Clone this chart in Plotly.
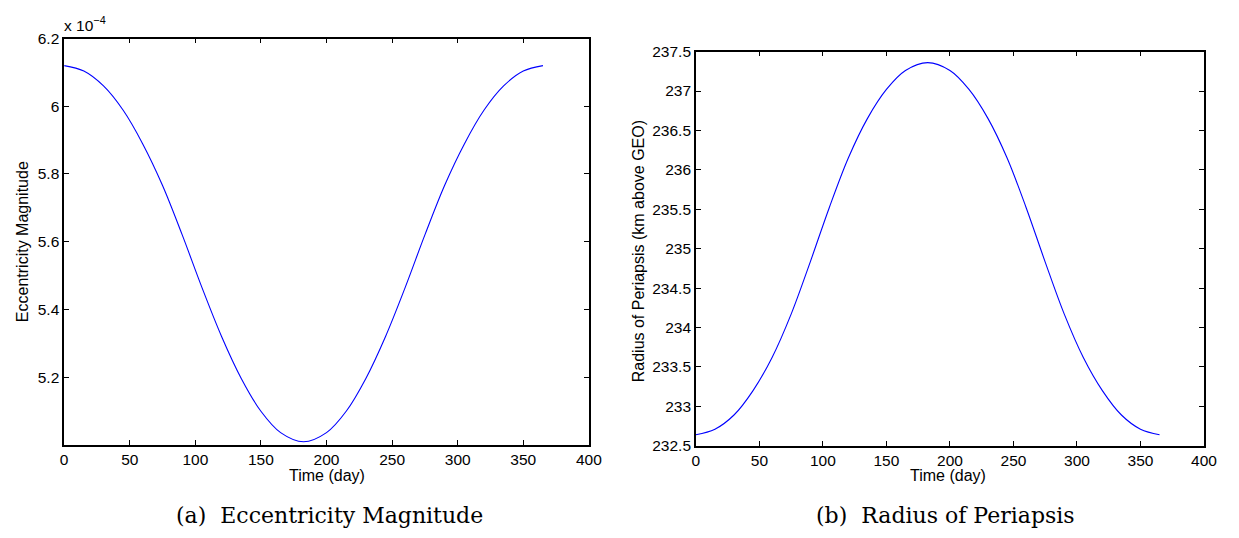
import plotly.graph_objects as go

# ---- data ----
days = [0, 15, 30, 45, 60, 75, 90, 105, 120, 135, 150, 165, 182.5,
        200, 215, 230, 245, 260, 275, 290, 305, 320, 335, 350, 365]
ecc = [6.120, 6.104, 6.060, 5.988, 5.888, 5.766, 5.620, 5.465, 5.320, 5.196, 5.099,
       5.036, 5.009,
       5.036, 5.099, 5.196, 5.320, 5.465, 5.620, 5.766, 5.888, 5.988, 6.060, 6.104,
       6.120]
rp = [232.64, 232.71, 232.89, 233.20, 233.62, 234.17, 234.83, 235.52, 236.15, 236.65,
      237.02, 237.26, 237.36,
      237.26, 237.02, 236.65, 236.15, 235.52, 234.83, 234.17, 233.62, 233.20, 232.89,
      232.71, 232.64]

x_ticks = [0, 50, 100, 150, 200, 250, 300, 350, 400]
ecc_ticks = [5.2, 5.4, 5.6, 5.8, 6.0, 6.2]
ecc_ticklabels = ["5.2", "5.4", "5.6", "5.8", "6", "6.2"]
rp_ticks = [232.5, 233, 233.5, 234, 234.5, 235, 235.5, 236, 236.5, 237, 237.5]
rp_ticklabels = ["232.5", "233", "233.5", "234", "234.5", "235", "235.5", "236",
                 "236.5", "237", "237.5"]

W, H = 1239, 538
def px(x):
    return x / W
def py(y):
    return 1 - y / H

fig = go.Figure()
fig.add_trace(go.Scatter(x=days, y=ecc, mode="lines",
                         line=dict(color="#0000ff", width=1.1, shape="spline", smoothing=1.0),
                         xaxis="x", yaxis="y", showlegend=False, hoverinfo="skip"))
fig.add_trace(go.Scatter(x=days, y=rp, mode="lines",
                         line=dict(color="#0000ff", width=1.1, shape="spline", smoothing=1.0),
                         xaxis="x2", yaxis="y2", showlegend=False, hoverinfo="skip"))

SANS = "Liberation Sans, Arial, Helvetica, sans-serif"
tickfont = dict(family=SANS, size=15.5, color="black")
axcommon = dict(showgrid=False, zeroline=False, showline=True, linecolor="black", linewidth=1.5,
                mirror="ticks", ticks="inside", ticklen=5, tickwidth=1, tickcolor="black",
                tickfont=tickfont, fixedrange=True)

fig.update_layout(
    width=W, height=H, margin=dict(l=0, r=0, t=0, b=0),
    paper_bgcolor="white", plot_bgcolor="white",
    xaxis=dict(domain=[px(61), px(593)], range=[0, 400], tickvals=x_ticks, anchor="y", **axcommon),
    yaxis=dict(domain=[py(450), py(30.5)], range=[5.0, 6.2], tickvals=ecc_ticks,
               ticktext=ecc_ticklabels, anchor="x", **axcommon),
    xaxis2=dict(domain=[px(701.5), px(1216.7)], range=[0, 400], tickvals=x_ticks, anchor="y2", **axcommon),
    yaxis2=dict(domain=[py(451), py(44)], range=[232.5, 237.5], tickvals=rp_ticks,
                ticktext=rp_ticklabels, anchor="x2", **axcommon),
)

labfont = dict(family=SANS, size=16, color="black")
capfont = dict(family="DejaVu Serif, serif", size=22, color="black")
ann = [
    dict(text="Time (day)", x=px(327), y=py(482), xref="paper", yref="paper",
         xanchor="center", yanchor="middle", showarrow=False, font=labfont),
    dict(text="Time (day)", x=px(957), y=py(482), xref="paper", yref="paper",
         xanchor="center", yanchor="middle", showarrow=False, font=labfont),
    dict(text="Eccentricity Magnitude", x=px(19), y=py(240), xref="paper", yref="paper",
         xanchor="center", yanchor="middle", textangle=-90, showarrow=False, font=labfont),
    dict(text="Radius of Periapsis (km above GEO)", x=px(643), y=py(250), xref="paper", yref="paper",
         xanchor="center", yanchor="middle", textangle=-90, showarrow=False, font=labfont),
    dict(text="x 10<sup>\u22124</sup>", x=px(59), y=py(28), xref="paper", yref="paper",
         xanchor="left", yanchor="bottom", showarrow=False, font=tickfont),
    dict(text="(a)  Eccentricity Magnitude", x=px(330), y=py(523), xref="paper", yref="paper",
         xanchor="center", yanchor="middle", showarrow=False, font=capfont),
    dict(text="(b)  Radius of Periapsis", x=px(955), y=py(523), xref="paper", yref="paper",
         xanchor="center", yanchor="middle", showarrow=False, font=capfont),
]
fig.update_layout(annotations=ann)

fig.write_html("out.html")
